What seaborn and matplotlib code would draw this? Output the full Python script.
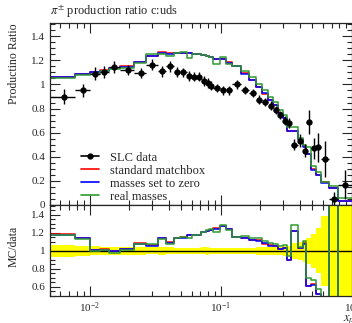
import numpy as np
import pandas as pd
import matplotlib
matplotlib.use("Agg")
import matplotlib.pyplot as plt
import seaborn as sns
from matplotlib.lines import Line2D
from matplotlib.ticker import MultipleLocator, FuncFormatter

# bin edges in x_p
edges = [0.005, 0.0077, 0.010, 0.012, 0.014, 0.017, 0.022, 0.027, 0.033, 0.038,
         0.044, 0.049, 0.055, 0.060, 0.066, 0.071, 0.077, 0.082, 0.088, 0.099,
         0.110, 0.121, 0.143, 0.164, 0.186, 0.208, 0.230, 0.252, 0.274, 0.296,
         0.318, 0.340, 0.385, 0.420, 0.450, 0.490, 0.530, 0.580, 0.670, 0.780, 1.0]

# SLC data
slc = [0.90, 0.95, 1.09, 1.10, 1.145, 1.12, 1.095, 1.165, 1.11, 1.15,
       1.105, 1.10, 1.07, 1.065, 1.065, 1.03, 1.01, 0.99, 0.97, 0.95,
       0.95, 1.00, 0.955, 0.93, 0.875, 0.855, 0.825, 0.79, 0.745, 0.70,
       0.68, 0.50, 0.535, 0.45, 0.69, 0.47, 0.48, 0.385, 0.05, 0.17]
slc_err = [0.06, 0.05, 0.055, 0.05, 0.05, 0.045, 0.045, 0.045, 0.045, 0.045,
           0.04, 0.04, 0.04, 0.04, 0.04, 0.04, 0.04, 0.035, 0.035, 0.035,
           0.035, 0.035, 0.035, 0.035, 0.035, 0.035, 0.035, 0.035, 0.035, 0.04,
           0.04, 0.045, 0.055, 0.055, 0.10, 0.09, 0.12, 0.15, 0.06, 0.12]

# MC predictions
standard = [1.065, 1.09, 1.105, 1.12, 1.14, 1.15, 1.19, 1.24, 1.27, 1.26,
            1.265, 1.265, 1.26, 1.255, 1.25, 1.245, 1.235, 1.225, 1.215, 1.215,
            1.185, 1.15, 1.095, 1.04, 0.98, 0.925, 0.875, 0.83, 0.765, 0.72,
            0.615, 0.61, 0.55, 0.49, 0.42, 0.295, 0.25, 0.19, 0.14, 0.03]
massless = [1.06, 1.085, 1.105, 1.115, 1.14, 1.145, 1.185, 1.235, 1.265, 1.255,
            1.265, 1.26, 1.26, 1.255, 1.25, 1.245, 1.235, 1.225, 1.21, 1.215,
            1.18, 1.15, 1.09, 1.04, 0.975, 0.93, 0.87, 0.83, 0.765, 0.72,
            0.61, 0.61, 0.55, 0.485, 0.42, 0.29, 0.25, 0.185, 0.14, 0.035]
massive = [1.055, 1.075, 1.09, 1.11, 1.125, 1.135, 1.18, 1.25, 1.255, 1.24,
           1.265, 1.27, 1.22, 1.255, 1.25, 1.245, 1.24, 1.23, 1.17, 1.225,
           1.17, 1.15, 1.11, 1.06, 1.0, 0.95, 0.90, 0.855, 0.79, 0.75,
           0.645, 0.645, 0.56, 0.50, 0.48, 0.32, 0.275, 0.19, 0.16, 0.055]

labels = ["standard matchbox", "masses set to zero", "real masses"]
colors = ["#ff0000", "#0000ff", "#2e9a2e"]

sns.set_style("ticks")
plt.rcParams['font.family'] = ['Liberation Serif', 'DejaVu Serif']
plt.rcParams['mathtext.fontset'] = 'stix'
plt.rcParams['font.size'] = 8

edges_a = np.array(edges)
lo, hi = edges_a[:-1], edges_a[1:]
centers = (lo + hi) / 2
data = np.array(slc)
err = np.array(slc_err)


def steps(ax, vals, color):
    df = pd.DataFrame({'x': edges, 'y': list(vals) + [vals[-1]]})
    sns.lineplot(data=df, x='x', y='y', ax=ax, color=color, lw=1.1,
                 drawstyle='steps-post', estimator=None, sort=False)


fig = plt.figure(figsize=(3.52, 3.23), dpi=100)
ax = fig.add_axes([50 / 352, 118 / 323, 302 / 352, 182 / 323])
rax = fig.add_axes([50 / 352, 27 / 323, 302 / 352, 91 / 323])
for a in (ax, rax):
    a.set_xscale('log')
    a.set_xlim(0.005, 1.0)

# main panel
for vals, c in zip([standard, massless, massive], colors):
    steps(ax, vals, c)
ax.errorbar(centers, data, yerr=err, xerr=[centers - lo, hi - centers],
            fmt='o', color='black', ms=3.5, elinewidth=1.0, capsize=0, zorder=5)
ax.set_ylim(0, 1.51)
ax.set_xlabel('')
ax.set_ylabel('Productino Ratio', loc='top', fontsize=8.5)
ax.set_title(r'$\pi^{\pm}$ production ratio c:uds', loc='left', fontsize=9, pad=6)

handles = [Line2D([], [], color='black', marker='o', ms=3.5, lw=1.2)]
handles += [Line2D([], [], color=c, lw=1.2) for c in colors]
ax.legend(handles, ['SLC data'] + labels, loc='lower left',
          bbox_to_anchor=(0.085, -0.015), borderaxespad=0, frameon=False,
          fontsize=9, handlelength=1.45, handletextpad=0.9, labelspacing=0.08)

# ratio panel
rel = err / data
rax.fill_between(edges, list(1 - rel) + [1 - rel[-1]], list(1 + rel) + [1 + rel[-1]],
                 step='post', color='#ffff00', lw=0)
rax.axhline(1.0, color='black', lw=1.0)
for vals, c in zip([standard, massless, massive], colors):
    steps(rax, np.array(vals) / data, c)
rax.set_ylim(0.5, 1.51)
rax.set_ylabel('MC/data', fontsize=8.5)
rax.set_xlabel('$x_p$', loc='right', fontsize=9)
rax.xaxis.set_label_coords(1.01, -0.19)

fmt = FuncFormatter(lambda v, p: f"{v:g}")
for a in (ax, rax):
    a.yaxis.set_major_locator(MultipleLocator(0.2))
    a.yaxis.set_minor_locator(MultipleLocator(0.05))
    a.yaxis.set_major_formatter(fmt)
    a.tick_params(which='both', direction='in', top=True, right=True,
                  labelsize=8, width=0.8)
    a.tick_params(which='major', length=7)
    a.tick_params(which='minor', length=3.5)
    for s in a.spines.values():
        s.set_linewidth(0.9)
ax.tick_params(labelbottom=False)
rax.set_yticks([0.6, 0.8, 1.0, 1.2, 1.4])
ax.yaxis.set_label_coords(-0.10, 1.0)
rax.yaxis.set_label_coords(-0.10, 0.55)

fig.savefig('out.png', dpi=100)
